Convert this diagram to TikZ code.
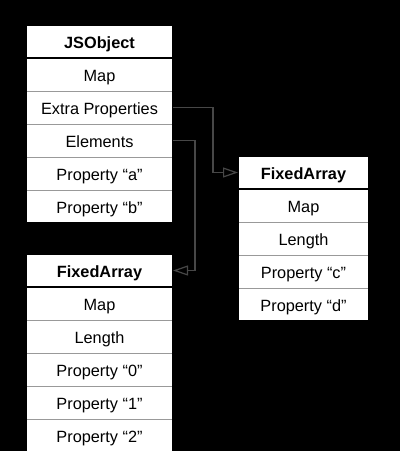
\documentclass[tikz,border=0pt]{standalone}
\usepackage{fontspec}
\setmainfont{Liberation Sans}
\usetikzlibrary{positioning,arrows.meta}

\newcommand{\cellfont}{\fontsize{16.3}{19}\selectfont}

\tikzset{
  cell/.style={draw=black!40, line width=1pt, fill=white, minimum width=147pt,
    minimum height=33pt, inner sep=0pt, outer sep=0pt, text height=14.2pt,
    text depth=0pt, font=\cellfont},
  headcell/.style={cell, font=\cellfont\bfseries},
  frame/.style={draw=black, line width=2pt},
  conn/.style={draw=black!72, line width=1.2pt, -{Triangle[open, length=15pt, width=10pt]}}
}

\begin{document}
\begin{tikzpicture}[x=1pt, y=-1pt]
\fill[black] (0,0) rectangle (400,451);
\clip (0,0) rectangle (400,451);

% JSObject
\node[headcell] (jsobj) at (99.5,41.5) {JSObject};
\node[cell, below=0pt of jsobj] (jsmap) {Map};
\node[cell, below=0pt of jsmap] (extra) {Extra Properties};
\node[cell, below=0pt of extra] (elems) {Elements};
\node[cell, below=0pt of elems] (propa) {Property “a”};
\node[cell, below=0pt of propa] (propb) {Property “b”};
\draw[frame] (jsobj.north west) rectangle (propb.south east);
\draw[line width=2.6pt] (jsobj.south west) -- (jsobj.south east);

% FixedArray for the extra properties
\node[headcell, minimum width=131pt] (fixprop) at (303.5,172.5) {FixedArray};
\node[cell, minimum width=131pt, below=0pt of fixprop] (fpmap) {Map};
\node[cell, minimum width=131pt, below=0pt of fpmap] (fplen) {Length};
\node[cell, minimum width=131pt, below=0pt of fplen] (propc) {Property “c”};
\node[cell, minimum width=131pt, below=0pt of propc] (propd) {Property “d”};
\draw[frame] (fixprop.north west) rectangle (propd.south east);
\draw[line width=2.6pt] (fixprop.south west) -- (fixprop.south east);

% FixedArray for the elements
\node[headcell] (fixelem) at (99.5,270.5) {FixedArray};
\node[cell, below=0pt of fixelem] (femap) {Map};
\node[cell, below=0pt of femap] (felen) {Length};
\node[cell, below=0pt of felen] (prop0) {Property “0”};
\node[cell, below=0pt of prop0] (prop1) {Property “1”};
\node[cell, below=0pt of prop1] (prop2) {Property “2”};
\draw[frame] (fixelem.north west) rectangle (prop2.south east);
\draw[line width=2.6pt] (fixelem.south west) -- (fixelem.south east);

% pointers
\draw[conn] (extra.east) -- ++(40,0) |- (fixprop.west);
\draw[conn] (elems.east) -- ++(22,0) |- (fixelem.east);
\end{tikzpicture}
\end{document}
